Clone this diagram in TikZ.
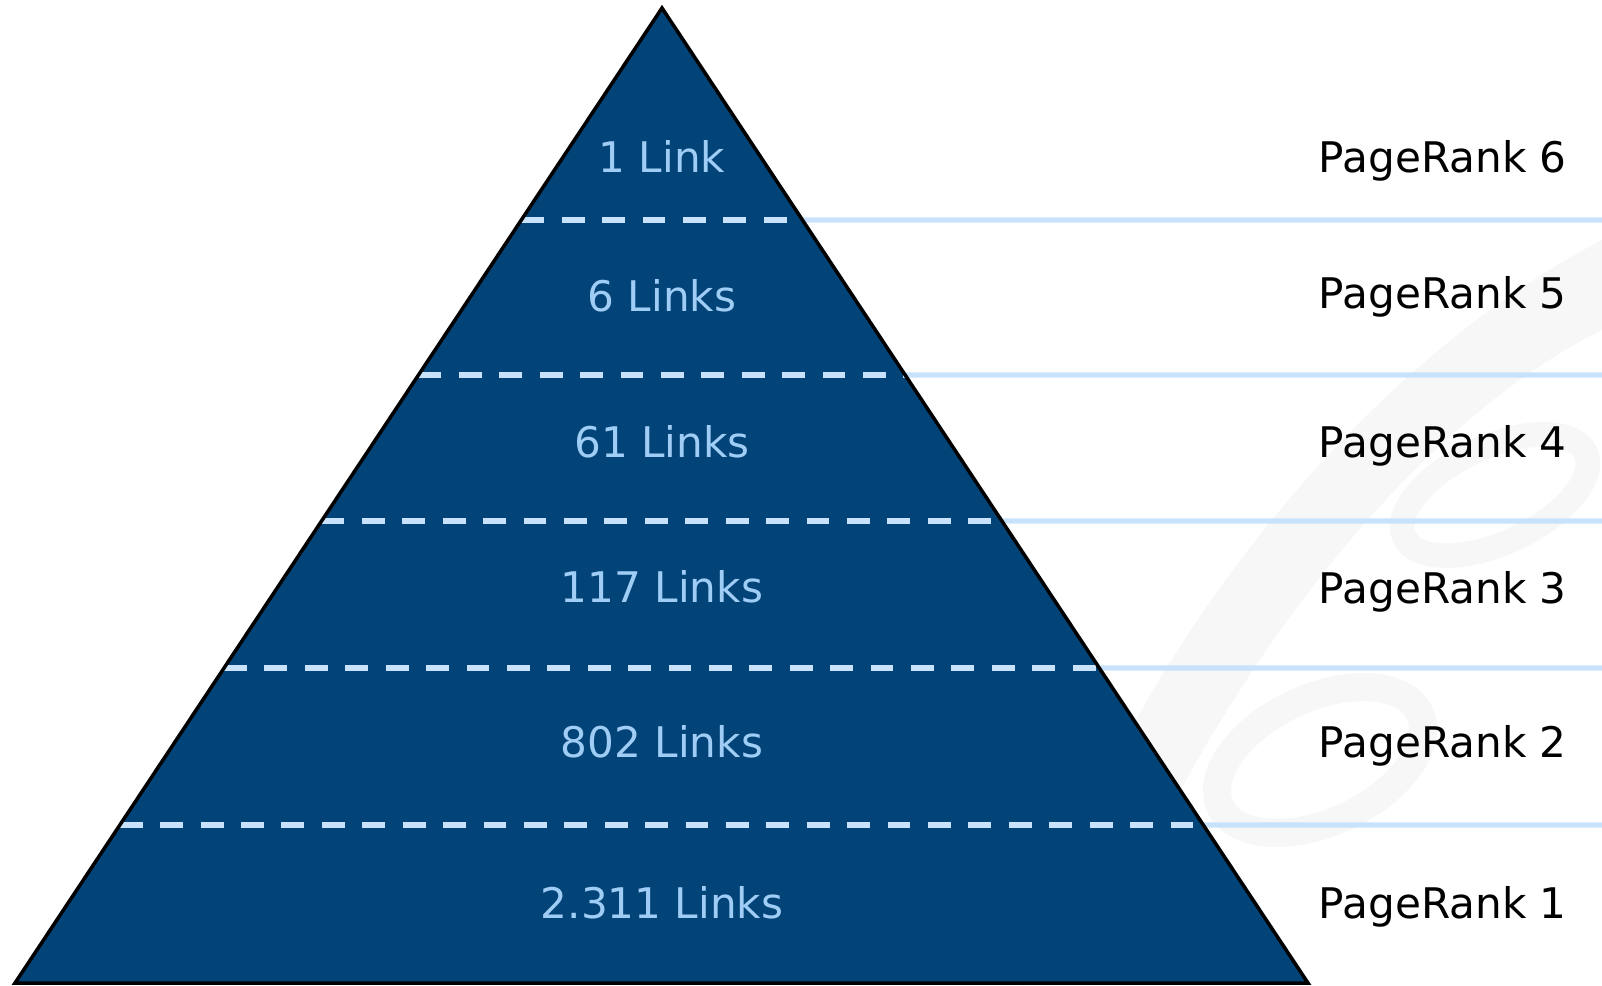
\documentclass[tikz,border=0pt]{standalone}
\usepackage{fontspec}
\setmainfont{DejaVu Sans}
\usetikzlibrary{calc,positioning}
\definecolor{pyrblue}{HTML}{024478}
\definecolor{linkblue}{HTML}{A0CDF5}
\definecolor{rulelight}{HTML}{C7E2FA}
\definecolor{wmark}{HTML}{F7F7F7}
\begin{document}
\begin{tikzpicture}[x=0.02cm, y=-0.02cm,
    tierdash/.style={draw=rulelight, line width=3.1pt, dash pattern=on 13pt off 10pt},
    tierrule/.style={draw=rulelight, line width=3.1pt},
    linklabel/.style={text=linkblue, inner sep=0pt, anchor=base, font=\fontsize{24}{29}\selectfont},
    ranklabel/.style={text=black, inner sep=0pt, anchor=base east, font=\fontsize{24}{29}\selectfont}]
    \useasboundingbox (0,0) rectangle (1602,985);

    % faint watermark
    \begin{scope}[wmark]
    \fill (1090,985) .. controls (1200,700) and (1400,430) .. (1602,330) -- (1602,240) .. controls (1370,360) and (1130,640) .. (1020,985) -- cycle;
    \draw[line width=16pt, rotate around={25:(1320,760)}] (1320,760) ellipse (110 and 62);
    \draw[line width=14pt, rotate around={25:(1495,495)}] (1495,495) ellipse (100 and 48);
    \end{scope}

    \coordinate (apex) at (662,8);
    \coordinate (bl) at (15,983);
    \coordinate (br) at (1308,983);

    \fill[pyrblue] (apex) -- (bl) -- (br) -- cycle;

    \foreach \yy in {220,375,521,668,825}{
        \draw[tierdash] ($(apex)!{(\yy-8)/975}!(bl)$) -- ($(apex)!{(\yy-8)/975}!(br)$);
        \draw[tierrule] ($(apex)!{(\yy-8)/975}!(br)$) -- (1602,\yy);
    }

    \draw[line width=2pt, line join=miter] (apex) -- (bl) -- (br) -- cycle;

    \node[linklabel] (link6) at (662,172) {1 Link};
    \node[linklabel] (link5) at (662,311) {6 Links};
    \node[linklabel] (link4) at (662,457) {61 Links};
    \node[linklabel] (link3) at (662,602) {117 Links};
    \node[linklabel] (link2) at (662,757) {802 Links};
    \node[linklabel] (link1) at (662,918) {2.311 Links};

    \node[ranklabel] (rank6) at (1567,172) {PageRank 6};
    \node[ranklabel] (rank5) at (1567,308) {PageRank 5};
    \node[ranklabel] (rank4) at (1567,457) {PageRank 4};
    \node[ranklabel] (rank3) at (1567,603) {PageRank 3};
    \node[ranklabel] (rank2) at (1567,757) {PageRank 2};
    \node[ranklabel] (rank1) at (1567,918) {PageRank 1};
\end{tikzpicture}
\end{document}
